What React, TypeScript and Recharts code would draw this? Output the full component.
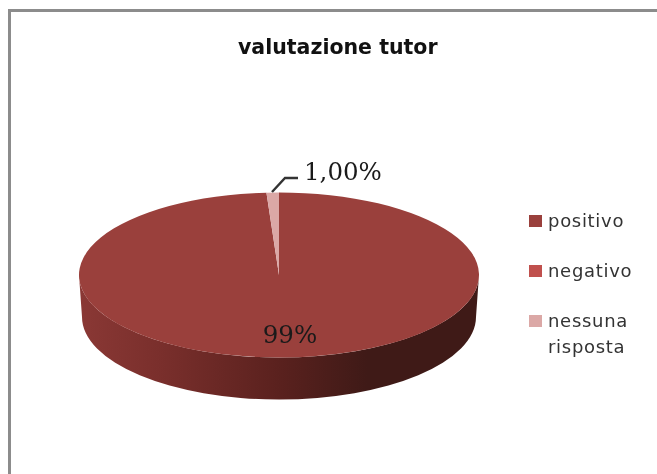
import React from "react";
import { PieChart, Pie, Legend } from "recharts";

const categories = ["positivo", "negativo", "nessuna risposta"];
const values = [99, 0, 1];
const valueLabels = ["99%", "", "1,00%"];
const colors = ["#9a403c", "#c0504d", "#dba8a6"];

const tableData = categories.map((name, i) => ({
  name,
  value: values[i],
  label: valueLabels[i],
  fill: colors[i],
}));

const SQUASH = 0.4125;
const DEPTH = 42;
const NARROW = 3;

const ellipsePoint = (cx: number, cy: number, rx: number, ry: number, angle: number) => {
  const rad = (angle * Math.PI) / 180;
  return [cx + rx * Math.cos(rad), cy - ry * Math.sin(rad)];
};

// tilted sector: recharts gives the angles, we just flatten the circle into an ellipse
const TiltedSector = (props: any) => {
  const { cx, cy, outerRadius, startAngle, endAngle, fill } = props;
  if (startAngle === endAngle) return null;
  const rx = outerRadius;
  const ry = outerRadius * SQUASH;
  const [x1, y1] = ellipsePoint(cx, cy, rx, ry, startAngle);
  const [x2, y2] = ellipsePoint(cx, cy, rx, ry, endAngle);
  const large = Math.abs(startAngle - endAngle) > 180 ? 1 : 0;
  const top = `M${cx},${cy} L${x1},${y1} A${rx},${ry} 0 ${large} 1 ${x2},${y2} Z`;

  // only the front half of the side is visible
  const a = Math.min(startAngle, 0);
  const b = Math.max(endAngle, -180);
  let wall = null;
  if (a > b) {
    const [wx1, wy1] = ellipsePoint(cx, cy, rx, ry, a);
    const [wx2, wy2] = ellipsePoint(cx, cy, rx, ry, b);
    const bx = rx - NARROW;
    const [wx3, wy3] = ellipsePoint(cx, cy + DEPTH, bx, ry, b);
    const [wx4, wy4] = ellipsePoint(cx, cy + DEPTH, bx, ry, a);
    wall = (
      <path
        d={`M${wx1},${wy1} A${rx},${ry} 0 0 1 ${wx2},${wy2} L${wx3},${wy3} A${bx},${ry} 0 0 0 ${wx4},${wy4} Z`}
        fill="url(#sideShade)"
      />
    );
  }
  return (
    <g>
      {wall}
      <path d={top} fill={fill} />
    </g>
  );
};

const SliceLabel = (props: any) => {
  const { cx, cy, index } = props;
  const text = valueLabels[index];
  if (!text) return null;
  if (index === 0) {
    return (
      <text x={cx + 11} y={cy + 68} textAnchor="middle" fontFamily="'DejaVu Serif'" fontSize={24.5} fill="#1a1a1a">
        {text}
      </text>
    );
  }
  return (
    <g>
      <polyline
        points={`${cx - 7},${cy - 83} ${cx + 6},${cy - 97} ${cx + 19},${cy - 97}`}
        fill="none"
        stroke="#333"
        strokeWidth={2.4}
      />
      <text x={cx + 25} y={cy - 95} fontFamily="'DejaVu Serif'" fontSize={24.5} fill="#1a1a1a">
        {text}
      </text>
    </g>
  );
};

const legendRowStyle: React.CSSProperties = {
  display: "flex",
  alignItems: "flex-start",
  marginBottom: 24,
};

const ChartLegend = (props: any) => (
  <div style={{ fontFamily: "'DejaVu Sans'", fontSize: 18, letterSpacing: 0.7, color: "#333", lineHeight: "26px" }}>
    {props.payload.map((entry: any) => (
      <div key={entry.value} style={legendRowStyle}>
        <span style={{ width: 13, height: 12, marginTop: 7, marginRight: 6, background: entry.color, flex: "none" }} />
        <span>{entry.value}</span>
      </div>
    ))}
  </div>
);

export default function App() {
  return (
    <div style={{ position: "absolute", left: 0, top: 0, width: 657, height: 474, overflow: "hidden", filter: "blur(0.5px)" }}>
      <div
        style={{
          position: "absolute",
          left: 8,
          top: 9,
          width: 700,
          height: 500,
          borderLeft: "3px solid #8c8c8c",
          borderTop: "3px solid #8c8c8c",
        }}
      />
      <div
        style={{
          position: "absolute",
          left: 238,
          top: 35,
          fontFamily: "'DejaVu Sans'",
          fontWeight: 700,
          fontSize: 20.5,
          color: "#111",
          whiteSpace: "nowrap",
        }}
      >
        valutazione tutor
      </div>
      <PieChart width={657} height={474} margin={{ top: 0, right: 0, bottom: 0, left: 0 }}>
        <defs>
          <linearGradient id="sideShade" gradientUnits="userSpaceOnUse" x1={79} x2={479} y1={0} y2={0}>
            <stop offset="0%" stopColor="#8a3835" />
            <stop offset="20%" stopColor="#7a2f2c" />
            <stop offset="50%" stopColor="#5a211e" />
            <stop offset="72%" stopColor="#3f1a17" />
            <stop offset="100%" stopColor="#3f1a17" />
          </linearGradient>
        </defs>
        <Pie
          data={tableData}
          dataKey="value"
          nameKey="name"
          cx={279}
          cy={275}
          outerRadius={200}
          startAngle={90}
          endAngle={-270}
          stroke="none"
          shape={TiltedSector}
          label={SliceLabel}
          labelLine={false}
          isAnimationActive={false}
        />
        <Legend
          layout="vertical"
          itemSorter={null}
          content={ChartLegend}
          wrapperStyle={{ left: 529, top: 208, width: 125, bottom: "auto", right: "auto" }}
        />
      </PieChart>
    </div>
  );
}
